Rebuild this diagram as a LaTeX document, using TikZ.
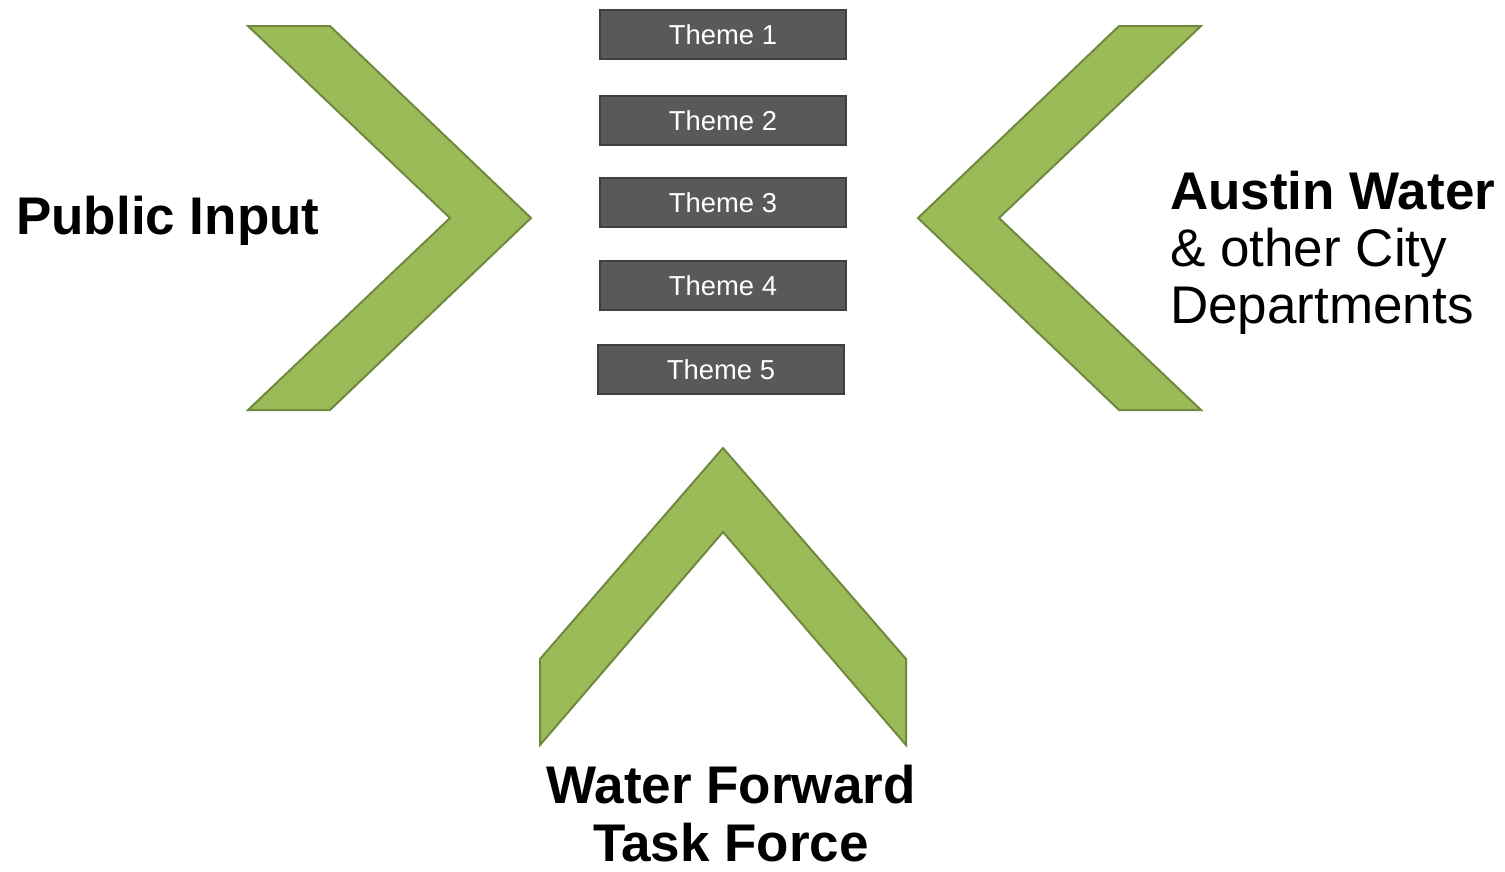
\documentclass[tikz,border=0pt]{standalone}
\usepackage{fontspec}
\setmainfont{Liberation Sans}
\usetikzlibrary{positioning}

\definecolor{leafgreen}{HTML}{9BBB59}
\definecolor{leafedge}{HTML}{71893F}
\definecolor{themegray}{HTML}{595959}
\definecolor{themeedge}{HTML}{404040}

\tikzset{
    chevron/.style={fill=leafgreen, draw=leafedge, line width=2pt, line join=miter},
    themebox/.style={fill=themegray, draw=themeedge, line width=2.5pt,
        minimum width=246pt, minimum height=49pt, inner sep=0pt,
        text=white, font=\fontsize{27.4}{30}\selectfont},
    biglabel/.style={inner sep=0pt, font=\fontsize{53}{57}\selectfont}
}

\begin{document}
\begin{tikzpicture}[x=1pt, y=-1pt]

    % 1. Fix the page size
    \useasboundingbox (0,0) rectangle (1505,871);

    % 2. The three chevrons
    \draw[chevron] (248,26) -- (330,26) -- (531,218) -- (330,410) -- (248,410) -- (450,218) -- cycle;   % Left
    \draw[chevron] (1201,26) -- (1119,26) -- (918,218) -- (1119,410) -- (1201,410) -- (999,218) -- cycle; % Right
    \draw[chevron] (723,448) -- (906,659) -- (906,745) -- (723,532) -- (540,745) -- (540,659) -- cycle;  % Bottom

    % 3. The theme boxes
    \node[themebox] (theme1) at (723,34.5)  {Theme 1};
    \node[themebox] (theme2) at (723,120.5) {Theme 2};
    \node[themebox] (theme3) at (723,202.5) {Theme 3};
    \node[themebox] (theme4) at (723,285.5) {Theme 4};
    \node[themebox] (theme5) at (721,369.5) {Theme 5};

    % 4. Labels for the three sources (base = last line)
    \node[biglabel, anchor=base west] (public) at (16,234) {\bfseries Public Input};
    \node[biglabel, anchor=base west, align=left] (austin) at (1170,323)
        {\bfseries Austin Water\\ \& other City\\ Departments};
    \node[biglabel, anchor=base, align=center, text depth=0pt,
        font=\fontsize{53}{58}\selectfont\bfseries] (taskforce) at (731,861)
        {Water Forward\\ Task Force};

\end{tikzpicture}
\end{document}
